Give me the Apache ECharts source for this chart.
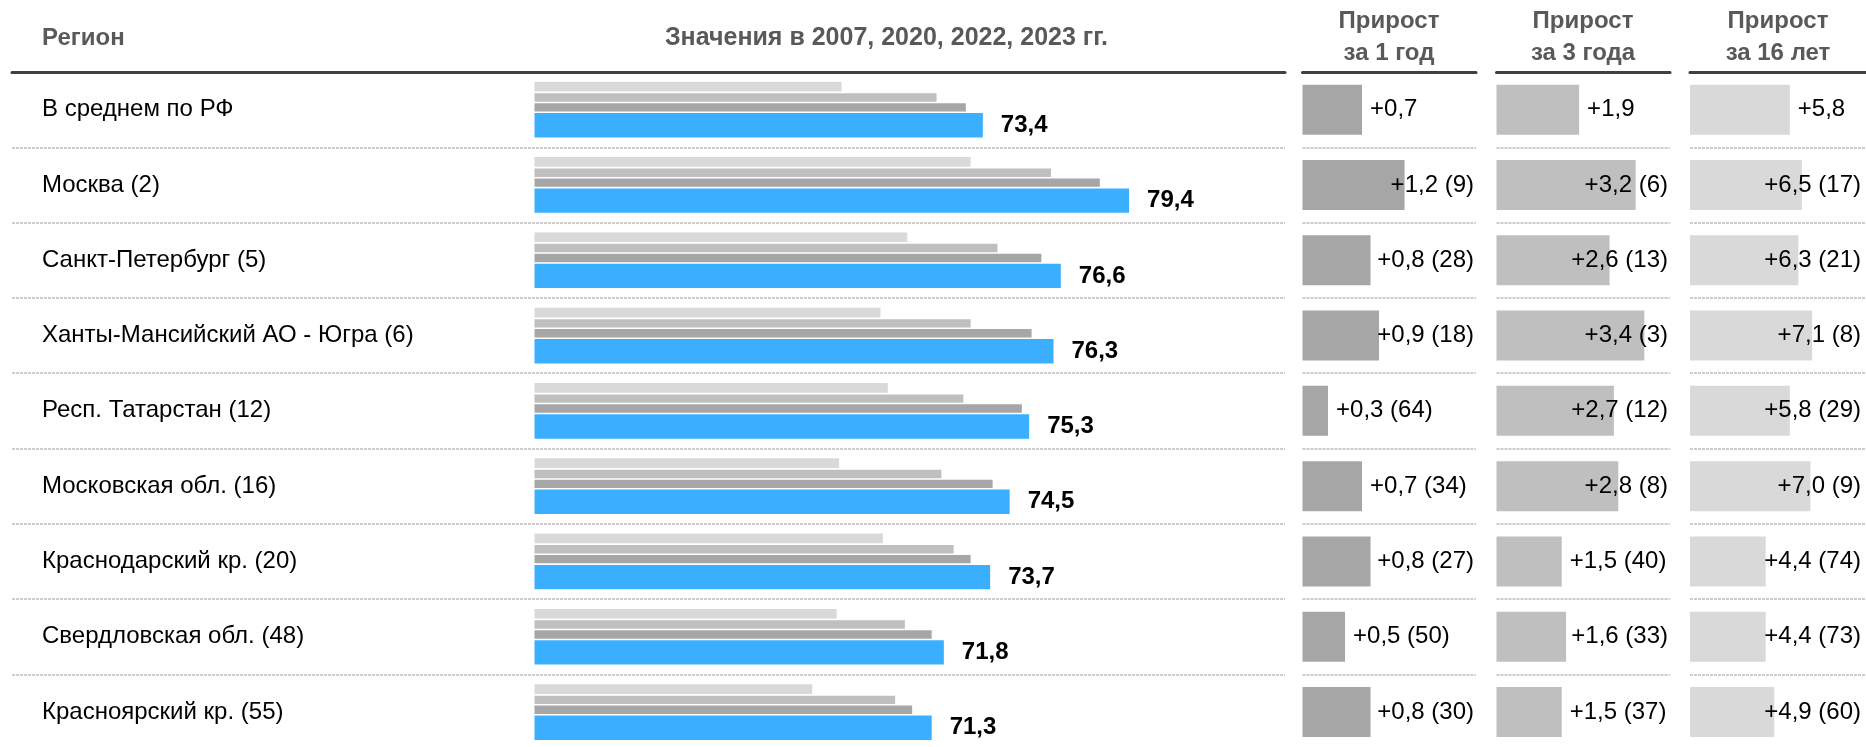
<!DOCTYPE html>
<html><head><meta charset="utf-8">
<script src="https://cdn.jsdelivr.net/npm/echarts@6/dist/echarts.min.js"></script>
<style>html,body{margin:0;padding:0;background:#fff}#c{width:1866px;height:747px}</style>
</head><body><div id="c"></div>
<script>
// ---------- data ----------
const regions = ['В среднем по РФ','Москва (2)','Санкт-Петербург (5)','Ханты-Мансийский АО - Югра (6)','Респ. Татарстан (12)','Московская обл. (16)','Краснодарский кр. (20)','Свердловская обл. (48)','Красноярский кр. (55)'];
const v2007 = [67.6, 72.9, 70.3, 69.2, 69.5, 67.5, 69.3, 67.4, 66.4];
const v2020 = [71.5, 76.2, 74.0, 72.9, 72.6, 71.7, 72.2, 70.2, 69.8];
const v2022 = [72.7, 78.2, 75.8, 75.4, 75.0, 73.8, 72.9, 71.3, 70.5];
const v2023 = [73.4, 79.4, 76.6, 76.3, 75.3, 74.5, 73.7, 71.8, 71.3];
const growth1  = [0.7, 1.2, 0.8, 0.9, 0.3, 0.7, 0.8, 0.5, 0.8];
const rank1    = [null, 9, 28, 18, 64, 34, 27, 50, 30];
const growth3  = [1.9, 3.2, 2.6, 3.4, 2.7, 2.8, 1.5, 1.6, 1.5];
const rank3    = [null, 6, 13, 3, 12, 8, 40, 33, 37];
const growth16 = [5.8, 6.5, 6.3, 7.1, 5.8, 7.0, 4.4, 4.4, 4.9];
const rank16   = [null, 17, 21, 8, 29, 9, 74, 73, 60];
const headerRegion = 'Регион';
const headerValues = 'Значения в 2007, 2020, 2022, 2023 гг.';
const headerGrowth = ['Прирост\nза 1 год', 'Прирост\nза 3 года', 'Прирост\nза 16 лет'];

// ---------- layout ----------
const FONT = '"Liberation Sans", Arial, sans-serif';
const TOP = 72, ROW_H = 75.3, N = regions.length, GH = ROW_H * N;
const fmt = v => v.toFixed(1).replace('.', ',');
const gfmt = (g, r) => '+' + fmt(g) + (r == null ? '' : ' (' + r + ')');

const grids = [
  {left: 12, top: TOP, width: 1273, height: GH},      // 0 main separators
  {left: 534.5, top: TOP, width: 731, height: GH},    // 1 main bars
  {left: 1302.5, top: TOP, width: 173.5, height: GH}, // 2 growth 1y
  {left: 1496.5, top: TOP, width: 173.5, height: GH}, // 3 growth 3y
  {left: 1690, top: TOP, width: 176, height: GH}      // 4 growth 16y
].map(g => Object.assign(g, {outerBoundsMode: 'none', containLabel: false}));
const growthMax = [2.04, 3.99, 10.23];

const sepLine = {show: true, lineStyle: {color: '#cdcdcd', width: 2, type: [3, 1]}};
const headLine = {show: true, lineStyle: {color: '#404040', width: 3}};

const xAxes = [], yAxes = [];
grids.forEach((g, i) => {
  const isMain = i === 1;
  xAxes.push({
    gridIndex: i, type: 'value', position: 'top',
    min: i === 0 ? 0 : (isMain ? 55 : 0),
    max: i === 0 ? 1 : (isMain ? 85 : growthMax[i - 2]),
    axisLine: isMain ? {show: false} : headLine,
    axisTick: {show: false}, axisLabel: {show: false}, splitLine: {show: false}
  });
  yAxes.push({
    gridIndex: i, type: 'category', inverse: true, data: regions,
    axisLine: {show: false}, axisTick: {show: false},
    splitLine: isMain ? {show: false} : Object.assign({interval: idx => idx < N}, sepLine),
    axisLabel: isMain ? {show: true, align: 'left', margin: 492.5, fontSize: 24, color: '#000', fontFamily: FONT}
                      : {show: false}
  });
});

const mainBar = (data, color, width, label) => ({
  type: 'bar', xAxisIndex: 1, yAxisIndex: 1, data, barWidth: width, barGap: '18%',
  itemStyle: {color}, silent: true,
  label: label ? {show: true, position: 'right', distance: 18, formatter: p => fmt(p.value),
                  fontSize: 24, fontWeight: 'bold', color: '#000', fontFamily: FONT} : {show: false}
});

const growthBar = (idx, data, ranks, color, limit) => ({
  type: 'bar', xAxisIndex: idx, yAxisIndex: idx, data, barWidth: 50, itemStyle: {color}, silent: true,
  label: {show: true, position: 'right', distance: 8, formatter: p => gfmt(p.value, ranks[p.dataIndex]),
          fontSize: 24, color: '#000', fontFamily: FONT},
  labelLayout: p => {
    const over = p.labelRect.x + p.labelRect.width - limit;
    return over > 0 ? {dx: -over} : {};
  }
});

const hdr = {fontSize: 24, fontWeight: 'bold', fontFamily: FONT, fill: '#595959'};
const graphic = [
  {type: 'text', x: 42, y: 38.5, style: Object.assign({text: headerRegion, align: 'left', verticalAlign: 'middle'}, hdr)},
  {type: 'text', x: 886.5, y: 38.5, style: Object.assign({text: headerValues, align: 'center', verticalAlign: 'middle'}, hdr, {fontSize: 25})},
  {type: 'text', x: 1389, y: 37.5, style: Object.assign({text: headerGrowth[0], align: 'center', verticalAlign: 'middle', lineHeight: 32}, hdr)},
  {type: 'text', x: 1583, y: 37.5, style: Object.assign({text: headerGrowth[1], align: 'center', verticalAlign: 'middle', lineHeight: 32}, hdr)},
  {type: 'text', x: 1778, y: 37.5, style: Object.assign({text: headerGrowth[2], align: 'center', verticalAlign: 'middle', lineHeight: 32}, hdr)}
];

const chart = echarts.init(document.getElementById('c'), null, {renderer: 'canvas'});
chart.setOption({
  animation: false,
  backgroundColor: '#fff',
  textStyle: {fontFamily: FONT},
  grid: grids, xAxis: xAxes, yAxis: yAxes, graphic,
  series: [
    mainBar(v2007, '#d9d9d9', 9.7, false),
    mainBar(v2020, '#bfbfbf', 8.4, false),
    mainBar(v2022, '#a6a6a6', 8.4, false),
    mainBar(v2023, '#3aafff', 24.4, true),
    growthBar(2, growth1, rank1, '#a6a6a6', 1474),
    growthBar(3, growth3, rank3, '#bfbfbf', 1668),
    growthBar(4, growth16, rank16, '#d9d9d9', 1861)
  ]
});
</script>
</body></html>
